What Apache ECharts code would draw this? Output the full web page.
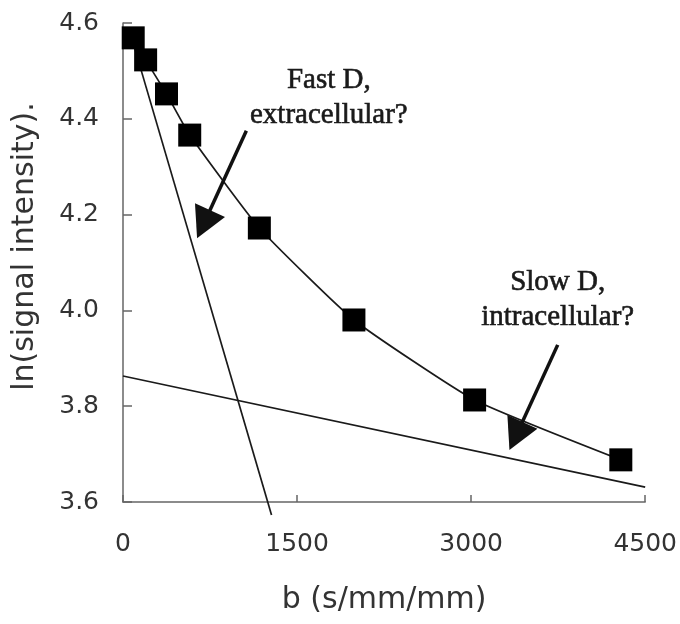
<!DOCTYPE html>
<html>
<head>
<meta charset="utf-8">
<script src="https://cdn.jsdelivr.net/npm/echarts@6/dist/echarts.min.js"></script>
<style>html,body{margin:0;padding:0;background:#fff;}#c{width:680px;height:624px;}</style>
</head>
<body>
<div id="c"></div>
<script>
// Measured points (b, ln signal)
const bValues = [88, 195, 375, 575, 1175, 1990, 3030, 4290];
const lnSignal = [4.569, 4.523, 4.452, 4.366, 4.172, 3.980, 3.813, 3.688];
// Fast component line (endpoints)
const fastLine = [[88, 4.558], [1280, 3.573]];
// Slow component line (endpoints)
const slowLine = [[0, 3.863], [4500, 3.631]];
// Annotations
const fastLabel = 'Fast D,\nextracellular?';
const slowLabel = 'Slow D,\nintracellular?';
const fastLabelAt = [1774, 4.444];
const slowLabelAt = [3746, 4.022];
const fastArrow = [[1063, 4.375], [694, 4.180]];
const slowArrow = [[3746, 3.928], [3386, 3.738]];
// Axes
const xTicks = [0, 1500, 3000, 4500];
const yTicks = [3.6, 3.8, 4.0, 4.2, 4.4, 4.6];

const chart = echarts.init(document.getElementById('c'), null, {renderer: 'canvas'});
const lineColor = '#1a1a1a';
const axisColor = '#666';
const sans = 'DejaVu Sans, sans-serif';
const labelFont = {fontFamily: sans, fontSize: 25, color: '#333'};
const serif = 'Liberation Serif, Times New Roman, serif';

chart.setOption({
  animation: false,
  backgroundColor: '#fff',
  grid: {left: 123, right: 31, top: 23, bottom: 122, containLabel: false},
  xAxis: {
    type: 'value', min: xTicks[0], max: xTicks[xTicks.length - 1], interval: 1500,
    name: 'b (s/mm/mm)', nameLocation: 'middle', nameGap: 83,
    nameTextStyle: {fontFamily: sans, fontSize: 30, color: '#333'},
    axisLine: {lineStyle: {color: axisColor, width: 1.5}},
    axisTick: {inside: true, length: 7, lineStyle: {color: axisColor, width: 1.5}},
    axisLabel: Object.assign({margin: 30, formatter: v => String(v)}, labelFont),
    splitLine: {show: false}
  },
  yAxis: {
    type: 'value', min: yTicks[0], max: yTicks[yTicks.length - 1], interval: 0.2,
    name: 'ln(signal intensity).', nameLocation: 'middle', nameGap: 83,
    nameTextStyle: {fontFamily: sans, fontSize: 30, color: '#333', padding: [0, 0, 0, 32]},
    axisLine: {show: true, lineStyle: {color: axisColor, width: 1.5}},
    axisTick: {show: true, inside: true, length: 9, lineStyle: {color: axisColor, width: 1.5}},
    axisLabel: Object.assign({margin: 24, formatter: v => v.toFixed(1)}, labelFont),
    splitLine: {show: false}
  },
  series: [
    {
      type: 'line', data: fastLine, showSymbol: false, symbol: 'none', clip: false,
      lineStyle: {color: lineColor, width: 1.7}, silent: true, z: 2
    },
    {
      type: 'line', data: slowLine, showSymbol: false, symbol: 'none', clip: false,
      lineStyle: {color: lineColor, width: 1.7}, silent: true, z: 2
    },
    {
      type: 'line', data: bValues.map((b, i) => [b, lnSignal[i]]),
      smooth: 0.15, clip: false,
      symbol: 'rect', symbolSize: 23,
      itemStyle: {color: '#000'},
      lineStyle: {color: lineColor, width: 1.7}, z: 3,
      markPoint: {
        symbol: 'circle', symbolSize: 0, silent: true,
        label: {show: true, position: 'inside', fontFamily: serif, fontSize: 29, color: '#1a1a1a',
                lineHeight: 35, textBorderColor: '#1a1a1a', textBorderWidth: 0.6},
        data: [
          {coord: fastLabelAt, value: fastLabel, label: {formatter: fastLabel}},
          {coord: slowLabelAt, value: slowLabel, label: {formatter: slowLabel}}
        ]
      },
      markLine: {
        silent: true, symbol: ['none', 'triangle'], symbolSize: [33, 31],
        label: {show: false},
        lineStyle: {color: '#111', width: 3.5, type: 'solid'},
        data: [
          [{coord: fastArrow[0]}, {coord: fastArrow[1]}],
          [{coord: slowArrow[0]}, {coord: slowArrow[1]}]
        ]
      }
    }
  ]
});
</script>
</body>
</html>
